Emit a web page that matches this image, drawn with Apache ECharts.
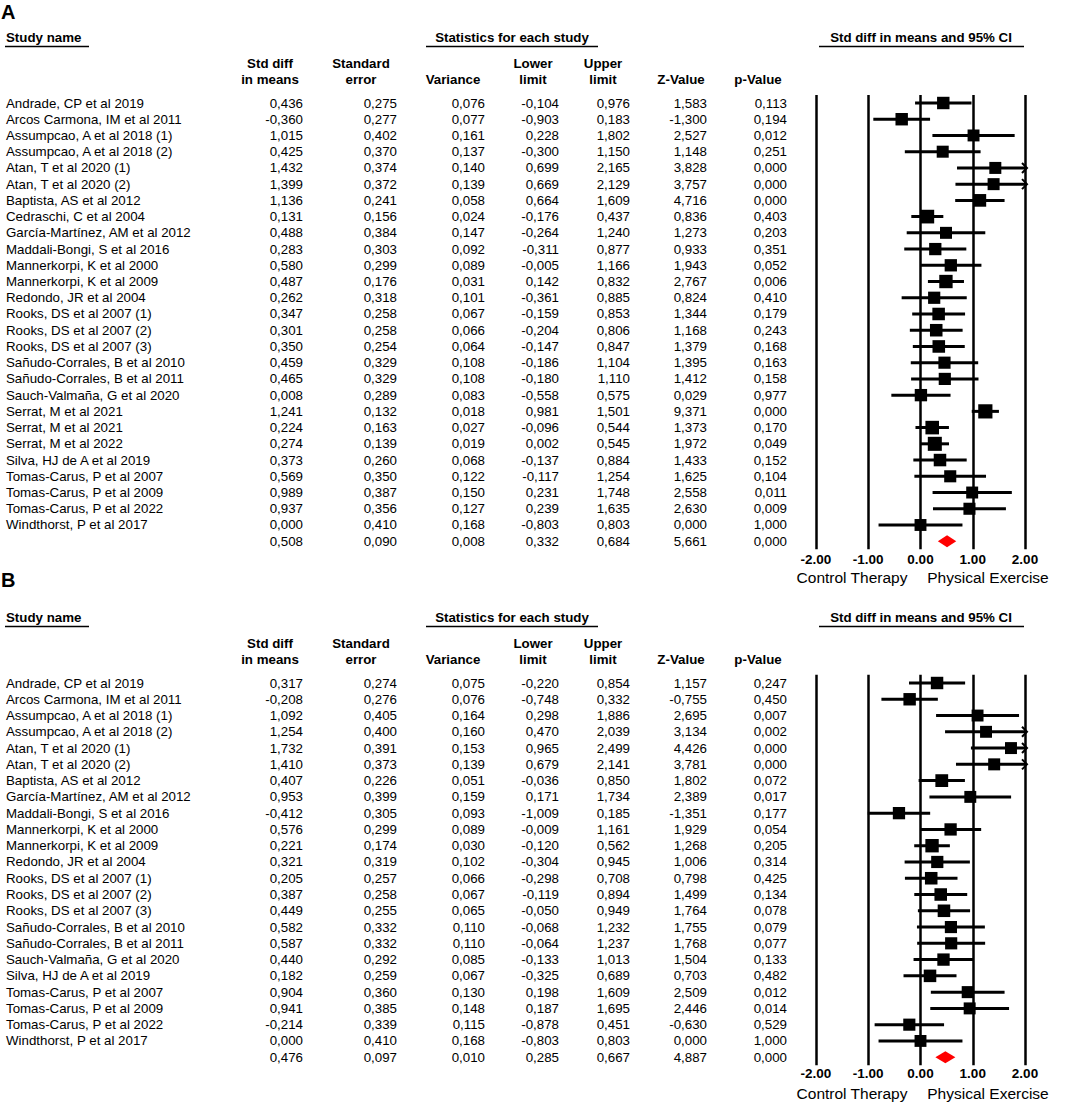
<!DOCTYPE html>
<html><head><meta charset="utf-8">
<script src="https://cdn.jsdelivr.net/npm/echarts@6/dist/echarts.min.js"></script>
<style>html,body{margin:0;padding:0;background:#fff}#c{width:1072px;height:1103px}</style>
</head><body><div id="c"></div>
<script>
// ---------- Panel A data ----------
const studiesA = ["Andrade, CP et al 2019","Arcos Carmona, IM et al 2011","Assumpcao, A et al 2018 (1)","Assumpcao, A et al 2018 (2)","Atan, T et al 2020 (1)","Atan, T et al 2020 (2)","Baptista, AS et al 2012","Cedraschi, C et al 2004","García-Martínez, AM et al 2012","Maddali-Bongi, S et al 2016","Mannerkorpi, K et al 2000","Mannerkorpi, K et al 2009","Redondo, JR et al 2004","Rooks, DS et al 2007 (1)","Rooks, DS et al 2007 (2)","Rooks, DS et al 2007 (3)","Sañudo-Corrales, B et al 2010","Sañudo-Corrales, B et al 2011","Sauch-Valmaña, G et al 2020","Serrat, M et al 2021","Serrat, M et al 2021","Serrat, M et al 2022","Silva, HJ de A et al 2019","Tomas-Carus, P et al 2007","Tomas-Carus, P et al 2009","Tomas-Carus, P et al 2022","Windthorst, P et al 2017"];
const smdA   = [0.436,-0.360,1.015,0.425,1.432,1.399,1.136,0.131,0.488,0.283,0.580,0.487,0.262,0.347,0.301,0.350,0.459,0.465,0.008,1.241,0.224,0.274,0.373,0.569,0.989,0.937,0.000];
const seA    = [0.275,0.277,0.402,0.370,0.374,0.372,0.241,0.156,0.384,0.303,0.299,0.176,0.318,0.258,0.258,0.254,0.329,0.329,0.289,0.132,0.163,0.139,0.260,0.350,0.387,0.356,0.410];
const varA   = [0.076,0.077,0.161,0.137,0.140,0.139,0.058,0.024,0.147,0.092,0.089,0.031,0.101,0.067,0.066,0.064,0.108,0.108,0.083,0.018,0.027,0.019,0.068,0.122,0.150,0.127,0.168];
const lowerA = [-0.104,-0.903,0.228,-0.300,0.699,0.669,0.664,-0.176,-0.264,-0.311,-0.005,0.142,-0.361,-0.159,-0.204,-0.147,-0.186,-0.180,-0.558,0.981,-0.096,0.002,-0.137,-0.117,0.231,0.239,-0.803];
const upperA = [0.976,0.183,1.802,1.150,2.165,2.129,1.609,0.437,1.240,0.877,1.166,0.832,0.885,0.853,0.806,0.847,1.104,1.110,0.575,1.501,0.544,0.545,0.884,1.254,1.748,1.635,0.803];
const zA     = [1.583,-1.300,2.527,1.148,3.828,3.757,4.716,0.836,1.273,0.933,1.943,2.767,0.824,1.344,1.168,1.379,1.395,1.412,0.029,9.371,1.373,1.972,1.433,1.625,2.558,2.630,0.000];
const pA     = [0.113,0.194,0.012,0.251,0.000,0.000,0.000,0.403,0.203,0.351,0.052,0.006,0.410,0.179,0.243,0.168,0.163,0.158,0.977,0.000,0.170,0.049,0.152,0.104,0.011,0.009,1.000];
const summaryA = [0.508,0.090,0.008,0.332,0.684,5.661,0.000]; // smd, se, var, lower, upper, z, p

// ---------- Panel B data ----------
const studiesB = ["Andrade, CP et al 2019","Arcos Carmona, IM et al 2011","Assumpcao, A et al 2018 (1)","Assumpcao, A et al 2018 (2)","Atan, T et al 2020 (1)","Atan, T et al 2020 (2)","Baptista, AS et al 2012","García-Martínez, AM et al 2012","Maddali-Bongi, S et al 2016","Mannerkorpi, K et al 2000","Mannerkorpi, K et al 2009","Redondo, JR et al 2004","Rooks, DS et al 2007 (1)","Rooks, DS et al 2007 (2)","Rooks, DS et al 2007 (3)","Sañudo-Corrales, B et al 2010","Sañudo-Corrales, B et al 2011","Sauch-Valmaña, G et al 2020","Silva, HJ de A et al 2019","Tomas-Carus, P et al 2007","Tomas-Carus, P et al 2009","Tomas-Carus, P et al 2022","Windthorst, P et al 2017"];
const smdB   = [0.317,-0.208,1.092,1.254,1.732,1.410,0.407,0.953,-0.412,0.576,0.221,0.321,0.205,0.387,0.449,0.582,0.587,0.440,0.182,0.904,0.941,-0.214,0.000];
const seB    = [0.274,0.276,0.405,0.400,0.391,0.373,0.226,0.399,0.305,0.299,0.174,0.319,0.257,0.258,0.255,0.332,0.332,0.292,0.259,0.360,0.385,0.339,0.410];
const varB   = [0.075,0.076,0.164,0.160,0.153,0.139,0.051,0.159,0.093,0.089,0.030,0.102,0.066,0.067,0.065,0.110,0.110,0.085,0.067,0.130,0.148,0.115,0.168];
const lowerB = [-0.220,-0.748,0.298,0.470,0.965,0.679,-0.036,0.171,-1.009,-0.009,-0.120,-0.304,-0.298,-0.119,-0.050,-0.068,-0.064,-0.133,-0.325,0.198,0.187,-0.878,-0.803];
const upperB = [0.854,0.332,1.886,2.039,2.499,2.141,0.850,1.734,0.185,1.161,0.562,0.945,0.708,0.894,0.949,1.232,1.237,1.013,0.689,1.609,1.695,0.451,0.803];
const zB     = [1.157,-0.755,2.695,3.134,4.426,3.781,1.802,2.389,-1.351,1.929,1.268,1.006,0.798,1.499,1.764,1.755,1.768,1.504,0.703,2.509,2.446,-0.630,0.000];
const pB     = [0.247,0.450,0.007,0.002,0.000,0.000,0.072,0.017,0.177,0.054,0.205,0.314,0.425,0.134,0.078,0.079,0.077,0.133,0.482,0.012,0.014,0.529,1.000];
const summaryB = [0.476,0.097,0.010,0.285,0.667,4.887,0.000];

// ---------- Axis / headers ----------
const xTicks = [-2, -1, 0, 1, 2];
const colHeaders = [["Std diff","in means"],["Standard","error"],["","Variance"],["Lower","limit"],["Upper","limit"],["","Z-Value"],["","p-Value"]];
const groupHeader = "Statistics for each study";
const plotHeader = "Std diff in means and 95% CI";
const leftLabel = "Control Therapy";
const rightLabel = "Physical Exercise";

// ---------- layout ----------
const FONT = '"Liberation Sans", Arial, Helvetica, sans-serif';
const COL_RIGHT = [303, 397, 485, 559, 630, 707, 787];
const COL_CENTER = [270, 361, 453, 533, 603, 681, 758];
const NAME_X = 6;
const PLOT_LEFT = 816, PLOT_RIGHT = 1025;
const FS = '13.3px ';

function fmt(v){ return (v < 0 ? '-' : '') + Math.abs(v).toFixed(3).replace('.', ','); }

function makePanel(p){
  const n = p.studies.length;
  const rows = [];
  for (let i = 0; i < n; i++) rows.push([p.smd[i], i, p.lower[i], p.upper[i], p.se[i], 0]);
  rows.push([p.summary[0], n, p.summary[3], p.summary[4], p.summary[1], 1]);
  const tableVals = [];
  for (let i = 0; i < n; i++) tableVals.push([p.studies[i], p.smd[i], p.se[i], p.vari[i], p.lower[i], p.upper[i], p.z[i], p.p[i]]);
  tableVals.push(["", ...p.summary]);
  return {rows, tableVals, n};
}

const panels = [
  {studies: studiesA, smd: smdA, se: seA, vari: varA, lower: lowerA, upper: upperA, z: zA, p: pA, summary: summaryA,
   rowStart: 103, spacing: 16.23, dy: 0, labelMargin: 3, footY: 577},
  {studies: studiesB, smd: smdB, se: seB, vari: varB, lower: lowerB, upper: upperB, z: zB, p: pB, summary: summaryB,
   rowStart: 683, spacing: 16.27, dy: 580, labelMargin: 1, footY: 1093}
];

const grids = [], xAxes = [], yAxes = [], series = [], graphics = [];

panels.forEach((p, k) => {
  const built = makePanel(p);
  const n = built.n;
  const top = p.rowStart - p.spacing / 2;
  const height = (n + 1) * p.spacing;
  grids.push({left: PLOT_LEFT, width: PLOT_RIGHT - PLOT_LEFT, top: top, height: height, containLabel: false});
  xAxes.push({
    gridIndex: k, type: 'value', min: xTicks[0], max: xTicks[xTicks.length - 1], interval: 1,
    axisLine: {show: false}, axisTick: {show: false},
    splitLine: {show: true, lineStyle: {color: '#000', width: 2.5}},
    axisLabel: {formatter: v => v.toFixed(2), fontFamily: FONT, fontWeight: 'bold', fontSize: 13.5, color: '#000', margin: p.labelMargin, showMinLabel: true, showMaxLabel: true}
  });
  yAxes.push({gridIndex: k, type: 'value', inverse: true, min: -0.5, max: n + 0.5, show: false});

  // forest marks
  series.push({
    type: 'custom', xAxisIndex: k, yAxisIndex: k, clip: false, silent: true,
    encode: {x: [0, 2, 3], y: 1},
    data: built.rows,
    renderItem: function(params, api){
      const m = api.value(0), row = api.value(1), lo = api.value(2), hi = api.value(3), se = api.value(4), sum = api.value(5);
      const c = api.coord([m, row]);
      const pl = api.coord([lo, row]), ph = api.coord([hi, row]);
      const xmin = api.coord([xTicks[0], row])[0], xmax = api.coord([xTicks[xTicks.length-1], row])[0];
      const y = c[1];
      if (sum) {
        return {type: 'polygon', shape: {points: [[pl[0], y], [c[0], y - 6], [ph[0], y], [c[0], y + 6]]}, style: {fill: '#ff0000', stroke: null}};
      }
      const x1 = Math.max(pl[0], xmin), x2 = Math.min(ph[0], xmax);
      const s = 10.8 + 0.45 / se;
      const children = [
        {type: 'line', shape: {x1: x1, y1: y, x2: x2, y2: y}, style: {stroke: '#000', lineWidth: 3}},
        {type: 'rect', shape: {x: c[0] - s/2, y: y - s/2, width: s, height: s}, style: {fill: '#000'}}
      ];
      if (ph[0] > xmax) {
        const tip = xmax + 2;
        children.push({type: 'polyline', shape: {points: [[tip - 5, y - 5], [tip, y], [tip - 5, y + 5]]}, style: {stroke: '#000', lineWidth: 2, fill: null}});
      }
      if (pl[0] < xmin) {
        const tip = xmin - 2;
        children.push({type: 'polyline', shape: {points: [[tip + 5, y - 5], [tip, y], [tip + 5, y + 5]]}, style: {stroke: '#000', lineWidth: 2, fill: null}});
      }
      return {type: 'group', children: children};
    }
  });

  // table text rows
  series.push({
    type: 'custom', xAxisIndex: k, yAxisIndex: k, clip: false, silent: true,
    encode: {x: 0, y: 1},
    data: built.rows.map(r => [0, r[1]]),
    renderItem: function(params, api){
      const row = api.value(1);
      const y = api.coord([0, row])[1];
      const vals = built.tableVals[params.dataIndex];
      const children = [];
      if (vals[0]) children.push({type: 'text', x: NAME_X, y: y, style: {text: vals[0], font: FS + FONT, fill: '#000', align: 'left', verticalAlign: 'middle'}});
      for (let j = 1; j < vals.length; j++) {
        children.push({type: 'text', x: COL_RIGHT[j-1], y: y, style: {text: fmt(vals[j]), font: FS + FONT, fill: '#000', align: 'right', verticalAlign: 'middle'}});
      }
      return {type: 'group', children: children};
    }
  });

  const dy = p.dy;
  const bold13 = 'bold ' + FS + FONT;
  // headers
  graphics.push({type: 'text', x: 6, y: 37 + dy, style: {text: 'Study name', font: bold13, fill: '#000', align: 'left', verticalAlign: 'middle'}});
  graphics.push({type: 'line', shape: {x1: 5, y1: 46.5 + dy, x2: 89, y2: 46.5 + dy}, style: {stroke: '#000', lineWidth: 1.5}});
  graphics.push({type: 'text', x: 512, y: 37 + dy, style: {text: groupHeader, font: bold13, fill: '#000', align: 'center', verticalAlign: 'middle'}});
  graphics.push({type: 'line', shape: {x1: 426, y1: 46.5 + dy, x2: 598, y2: 46.5 + dy}, style: {stroke: '#000', lineWidth: 1.5}});
  graphics.push({type: 'text', x: 921, y: 37 + dy, style: {text: plotHeader, font: bold13, fill: '#000', align: 'center', verticalAlign: 'middle'}});
  graphics.push({type: 'line', shape: {x1: 819, y1: 46.5 + dy, x2: 1024, y2: 46.5 + dy}, style: {stroke: '#000', lineWidth: 1.5}});
  colHeaders.forEach((h, j) => {
    if (h[0]) graphics.push({type: 'text', x: COL_CENTER[j], y: 63 + dy, style: {text: h[0], font: bold13, fill: '#000', align: 'center', verticalAlign: 'middle'}});
    graphics.push({type: 'text', x: COL_CENTER[j], y: 79 + dy, style: {text: h[1], font: bold13, fill: '#000', align: 'center', verticalAlign: 'middle'}});
  });
  // footer labels
  graphics.push({type: 'text', x: 852, y: p.footY, style: {text: leftLabel, font: '15.5px ' + FONT, fill: '#000', align: 'center', verticalAlign: 'middle'}});
  graphics.push({type: 'text', x: 988, y: p.footY, style: {text: rightLabel, font: '15.5px ' + FONT, fill: '#000', align: 'center', verticalAlign: 'middle'}});
});

// panel letters
graphics.push({type: 'text', x: 1, y: 12, style: {text: 'A', font: 'bold 20px ' + FONT, fill: '#000', align: 'left', verticalAlign: 'middle'}});
graphics.push({type: 'text', x: 1, y: 580, style: {text: 'B', font: 'bold 20px ' + FONT, fill: '#000', align: 'left', verticalAlign: 'middle'}});

const chart = echarts.init(document.getElementById('c'), null, {renderer: 'svg', width: 1072, height: 1103});
chart.setOption({
  animation: false,
  backgroundColor: '#ffffff',
  textStyle: {fontFamily: FONT},
  grid: grids,
  xAxis: xAxes,
  yAxis: yAxes,
  series: series,
  graphic: {elements: graphics}
});
</script>
</body></html>
